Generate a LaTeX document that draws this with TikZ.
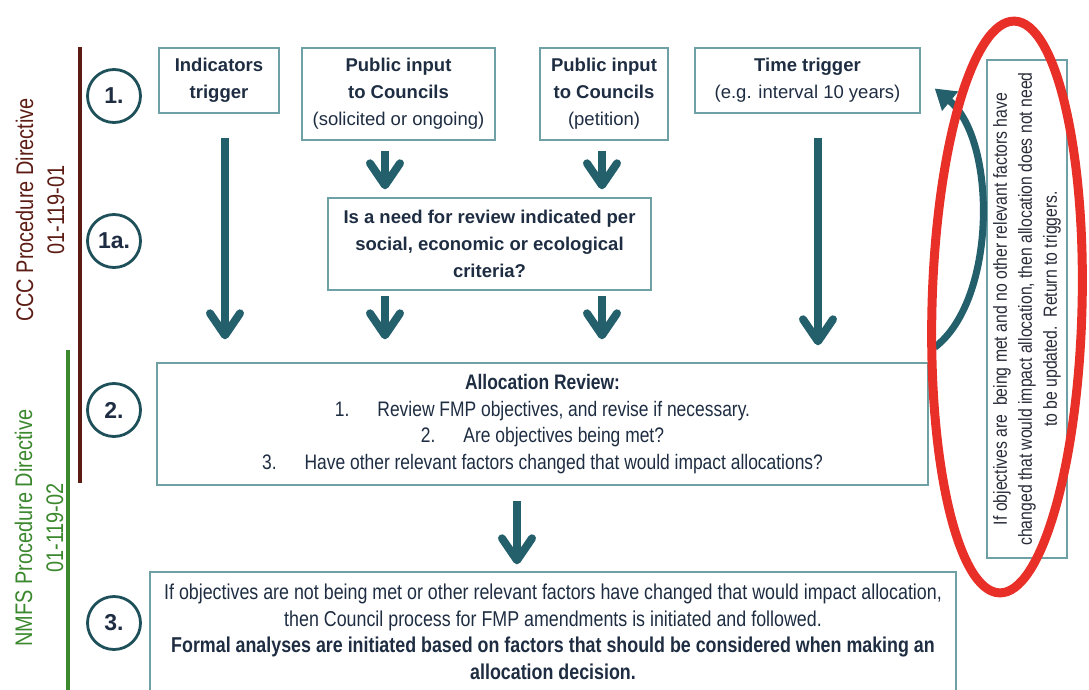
\documentclass[tikz,border=0pt]{standalone}
\usepackage{fontspec}
\setmainfont{Liberation Sans}
\newfontfamily\narrowfont[FakeStretch=0.83]{Liberation Sans}
\usetikzlibrary{arrows.meta,shapes.geometric}

\definecolor{flowteal}{RGB}{36,96,108}
\definecolor{boxline}{RGB}{110,160,166}
\definecolor{inktext}{RGB}{30,45,66}
\definecolor{bodytext}{RGB}{40,44,56}
\definecolor{cccbrown}{RGB}{92,28,20}
\definecolor{nmfsgreen}{RGB}{60,136,46}
\definecolor{alertred}{RGB}{232,48,40}
\definecolor{ringline}{RGB}{30,80,90}

\tikzset{
  flowbox/.style={draw=boxline, line width=1.4pt, fill=white, align=center,
    inner sep=2pt, text=inktext},
  stepmark/.style={circle, draw=ringline, line width=2.8pt, minimum size=53pt,
    inner sep=0pt, font=\bfseries\fontsize{23}{24}\selectfont, text=inktext},
  bigarrow/.style={draw=flowteal, line width=8pt,
    -{Straight Barb[length=22pt, width=30pt, line cap=round, line join=round]}},
  sidelabel/.style={rotate=90, align=center,
    font=\narrowfont\fontsize{24}{31}\selectfont},
  headtext/.style={font=\bfseries\fontsize{18.5}{27}\selectfont},
  bodyfont/.style={font=\narrowfont\fontsize{21}{26.5}\selectfont},
}

\begin{document}
\begin{tikzpicture}[x=1pt, y=-1pt]
\useasboundingbox (0,0) rectangle (1089,690);
\clip (0,0) rectangle (1089,690);

% directive brackets on the left
\draw[cccbrown, line width=3.5pt] (80,47) -- (80,483);
\draw[nmfsgreen, line width=3.5pt] (68,350) -- (68,692);
\node[sidelabel, text=cccbrown] (ccc) at (40,210)
  {CCC Procedure Directive\\01-119-01};
\node[sidelabel, text=nmfsgreen] (nmfs) at (39,528)
  {NMFS Procedure Directive\\01-119-02};

% step numbers
\node[stepmark] (s1)  at (114,96)  {1.};
\node[stepmark] (s1a) at (114,241) {1a.};
\node[stepmark] (s2)  at (114,410) {2.};
\node[stepmark] (s3)  at (114,623) {3.};

% trigger boxes
\node[flowbox, headtext, minimum width=120pt, minimum height=65pt] (ind) at (219,80.5)
  {Indicators\\trigger};
\node[flowbox, headtext, minimum width=193pt, minimum height=92pt] (pub1) at (398.5,94)
  {Public input\\to Councils\\{\mdseries (solicited or ongoing)}};
\node[flowbox, headtext, minimum width=128pt, minimum height=92pt] (pub2) at (604,94)
  {Public input\\to Councils\\{\mdseries (petition)}};
\node[flowbox, headtext, minimum width=225pt, minimum height=65pt] (time) at (807.5,80.5)
  {Time trigger\\{\mdseries (e.g. interval 10 years)}};

% screening question
\node[flowbox, headtext, minimum width=323pt, minimum height=92pt] (need) at (489.5,244)
  {Is a need for review indicated per\\social, economic or ecological\\criteria?};

% allocation review
\node[flowbox, bodyfont, minimum width=771pt, minimum height=122pt] (rev) at (542.5,424)
  {\textbf{Allocation Review:}\\
   1.\hspace{28pt}Review FMP objectives, and revise if necessary.\\
   2.\hspace{28pt}Are objectives being met?\\
   3.\hspace{28pt}Have other relevant factors changed that would impact allocations?};

% amendment process
\node[flowbox, minimum width=806pt, minimum height=120pt,
  font=\narrowfont\fontsize{21.5}{26.5}\selectfont] (act) at (553,632)
  {If objectives are not being met or other relevant factors have changed that would impact allocation,\\
   then Council process for FMP amendments is initiated and followed.\\
   {\bfseries Formal analyses are initiated based on factors that should be considered when making an}\\
   {\bfseries allocation decision.}};

% note about returning to the triggers
\node[flowbox, rotate=90, minimum width=498pt, minimum height=80pt, text=bodytext,
  font=\narrowfont\fontsize{19}{25}\selectfont] (note) at (1027,309)
  {If objectives are\ \ being met and no other relevant factors have\\
   changed that would impact allocation, then allocation does not need\\
   to be updated.\ \ Return to triggers.};

% flow arrows
\draw[bigarrow, shorten <=24pt, shorten >=23pt]
  ([xshift=6pt]ind.south) -- ([xshift=6pt]ind.south |- rev.north);
\draw[bigarrow, shorten <=10pt, shorten >=8pt]
  ([xshift=-13.5pt]pub1.south) -- ([xshift=-13.5pt]pub1.south |- need.north);
\draw[bigarrow, shorten <=10pt, shorten >=8pt]
  ([xshift=-2pt]pub2.south) -- ([xshift=-2pt]pub2.south |- need.north);
\draw[bigarrow, shorten <=5pt, shorten >=23pt]
  ([xshift=-104.5pt]need.south) -- ([xshift=-104.5pt]need.south |- rev.north);
\draw[bigarrow, shorten <=5pt, shorten >=23pt]
  ([xshift=112.5pt]need.south) -- ([xshift=112.5pt]need.south |- rev.north);
\draw[bigarrow, shorten <=24pt, shorten >=17pt]
  ([xshift=10.5pt]time.south) -- ([xshift=10.5pt]time.south |- rev.north);
\draw[bigarrow, shorten <=15pt, shorten >=7pt]
  ([xshift=-25.5pt]rev.south) -- ([xshift=-25.5pt]rev.south |- act.north);

% loop back to the triggers
\coordinate (loopstart) at ([xshift=6pt,yshift=15pt]rev.north east);
\coordinate (loopend) at ([xshift=14pt,yshift=-8pt]time.east);
\draw[draw=flowteal, line width=7pt,
  -{Triangle[length=20pt, width=24pt]}]
  (loopstart) .. controls (997,300) and (997,140) .. (loopend);

% highlight ring
\draw[alertred, line width=9pt, rotate around={-1.5:(1007,307)}]
  (1007,307) ellipse [x radius=75, y radius=286];
\end{tikzpicture}
\end{document}
